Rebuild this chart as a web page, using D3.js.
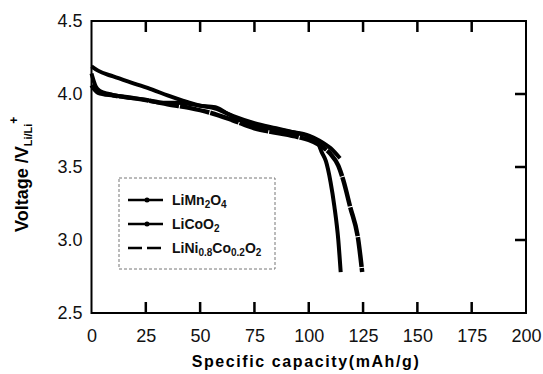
<!DOCTYPE html>
<html>
<head>
<meta charset="utf-8">
<script src="https://cdn.jsdelivr.net/npm/d3@7"></script>
<style>
  body { margin: 0; background: #fff; }
  svg { font-family: "Liberation Sans", Arial, sans-serif; }
</style>
</head>
<body>
<div id="chart"></div>
<script>
// discharge curves, capacity (mAh/g) vs voltage (V)
const liMn2O4 = [[0,4.14],[1,4.09],[2,4.05],[4,4.02],[8,4.0],[15,3.98],[25,3.96],[32,3.94],[40,3.94],[50,3.92],[57,3.91],[62,3.87],[70,3.81],[80,3.77],[90,3.745],[100,3.715],[105,3.68],[110,3.63],[114.4,3.56]];
const liCoO2 = [[0,4.19],[3,4.16],[10,4.12],[20,4.07],[28,4.03],[35,3.99],[42,3.955],[50,3.92],[57,3.9],[65,3.85],[75,3.8],[85,3.765],[95,3.73],[100,3.71],[104,3.67],[106,3.6],[107.9,3.54],[110,3.4],[111.8,3.23],[113.6,3.0],[114.7,2.78]];
const liNiCoO2 = [[0,4.06],[3,4.01],[10,3.99],[20,3.97],[28,3.95],[35,3.93],[45,3.905],[55,3.87],[65,3.82],[75,3.765],[85,3.735],[95,3.705],[100,3.685],[105,3.65],[110,3.59],[113.6,3.51],[115.9,3.41],[119,3.23],[122.8,3.0],[124.6,2.78]];

const xTicks = [0, 25, 50, 75, 100, 125, 150, 175, 200];
const yTicks = [2.5, 3.0, 3.5, 4.0, 4.5];

const width = 543, height = 374;
const margin = {top: 21, right: 17, bottom: 61, left: 91.5};
const tickLen = 11;

const svg = d3.select('#chart').append('svg')
    .attr('width', width)
    .attr('height', height);

const x = d3.scaleLinear().domain([0, 200]).range([margin.left, width - margin.right]);
const y = d3.scaleLinear().domain([2.5, 4.5]).range([height - margin.bottom, margin.top]);

// frame
svg.append('rect')
    .attr('x', x(0)).attr('y', y(4.5))
    .attr('width', x(200) - x(0)).attr('height', y(2.5) - y(4.5))
    .attr('fill', 'none').attr('stroke', '#000').attr('stroke-width', 2);

// tick labels from d3 axes
const axisBottomG = svg.append('g')
    .attr('transform', `translate(0,${y(2.5)})`)
    .call(d3.axisBottom(x).tickValues(xTicks).tickSize(0).tickPadding(16).tickFormat(d3.format('d')));
const axisLeftG = svg.append('g')
    .attr('transform', `translate(${x(0)},0)`)
    .call(d3.axisLeft(y).tickValues(yTicks).tickSize(0).tickPadding(9).tickFormat(d3.format('.1f')));
[axisBottomG, axisLeftG].forEach(g => {
    g.select('.domain').remove();
    g.selectAll('text').attr('fill', '#111').style('font-size', '18px');
});

// inward ticks on bottom, top and right, as one path
const innerX = xTicks.slice(1, -1);
const innerY = yTicks.slice(1, -1);
const tickPath = d3.path();
innerX.forEach(v => {
    tickPath.moveTo(x(v), y(2.5));
    tickPath.lineTo(x(v), y(2.5) - tickLen);
    tickPath.moveTo(x(v), y(4.5));
    tickPath.lineTo(x(v), y(4.5) + tickLen);
});
innerY.forEach(v => {
    tickPath.moveTo(x(200), y(v));
    tickPath.lineTo(x(200) - tickLen, y(v));
});
svg.append('path')
    .attr('d', tickPath.toString())
    .attr('fill', 'none')
    .attr('stroke', '#000')
    .attr('stroke-width', 2.5);

// curves
const line = d3.line().x(d => x(d[0])).y(d => y(d[1])).curve(d3.curveMonotoneX);
const series = [
    {name: 'LiMn2O4', data: liMn2O4, width: 4, dash: null},
    {name: 'LiCoO2', data: liCoO2, width: 4, dash: null},
    {name: 'LiNiCoO2', data: liNiCoO2, width: 4.5, dash: '30,1'}
];
svg.append('g').selectAll('path')
    .data(series)
  .enter().append('path')
    .attr('d', d => line(d.data))
    .attr('fill', 'none')
    .attr('stroke', '#000')
    .attr('stroke-width', d => d.width)
    .attr('stroke-dasharray', d => d.dash);

// legend
const lg = svg.append('g');
lg.append('rect')
    .attr('x', 119).attr('y', 178).attr('width', 156).attr('height', 91)
    .attr('fill', '#fff').attr('stroke', '#777').attr('stroke-width', 1)
    .attr('stroke-dasharray', '3,2');
// [text, isSubscript]
const legendRows = [
    {parts: [['LiMn', 0], ['2', 1], ['O', 0], ['4', 1]], dash: null, marker: true},
    {parts: [['LiCoO', 0], ['2', 1]], dash: null, marker: true},
    {parts: [['LiNi', 0], ['0.8', 1], ['Co', 0], ['0.2', 1], ['O', 0], ['2', 1]], dash: '14,5', marker: false}
];
legendRows.forEach((r, i) => {
    const ly = 200 + i * 24;
    lg.append('line')
        .attr('x1', 128).attr('x2', 163).attr('y1', ly).attr('y2', ly)
        .attr('stroke', '#000').attr('stroke-width', 2.5)
        .attr('stroke-dasharray', r.dash);
    if (r.marker) {
        lg.append('circle').attr('cx', 147).attr('cy', ly).attr('r', 2.5).attr('fill', '#000');
    }
    const t = lg.append('text')
        .attr('x', 172).attr('y', ly + 5)
        .style('font-weight', 'bold').attr('fill', '#111');
    let prevSub = false;
    r.parts.forEach(p => {
        const sub = !!p[1];
        t.append('tspan')
            .attr('dy', sub ? (prevSub ? 0 : 3) : (prevSub ? -3 : 0))
            .style('font-size', sub ? '10px' : '14px')
            .text(p[0]);
        prevSub = sub;
    });
});

// axis titles
svg.append('text')
    .attr('x', 306).attr('y', 367)
    .attr('text-anchor', 'middle')
    .style('font-size', '16px').style('font-weight', 'bold').style('letter-spacing', '1.6px')
    .text('Specific capacity(mAh/g)');

const yl = svg.append('text')
    .attr('transform', `translate(28,${y(3.45)}) rotate(-90)`)
    .attr('text-anchor', 'middle')
    .style('font-size', '18px').style('font-weight', 'bold');
yl.append('tspan').text('Voltage /V');
yl.append('tspan').attr('dy', 4).style('font-size', '11px').text('Li/Li');
yl.append('tspan').attr('dy', -14).style('font-size', '12px').text('+');
</script>
</body>
</html>
